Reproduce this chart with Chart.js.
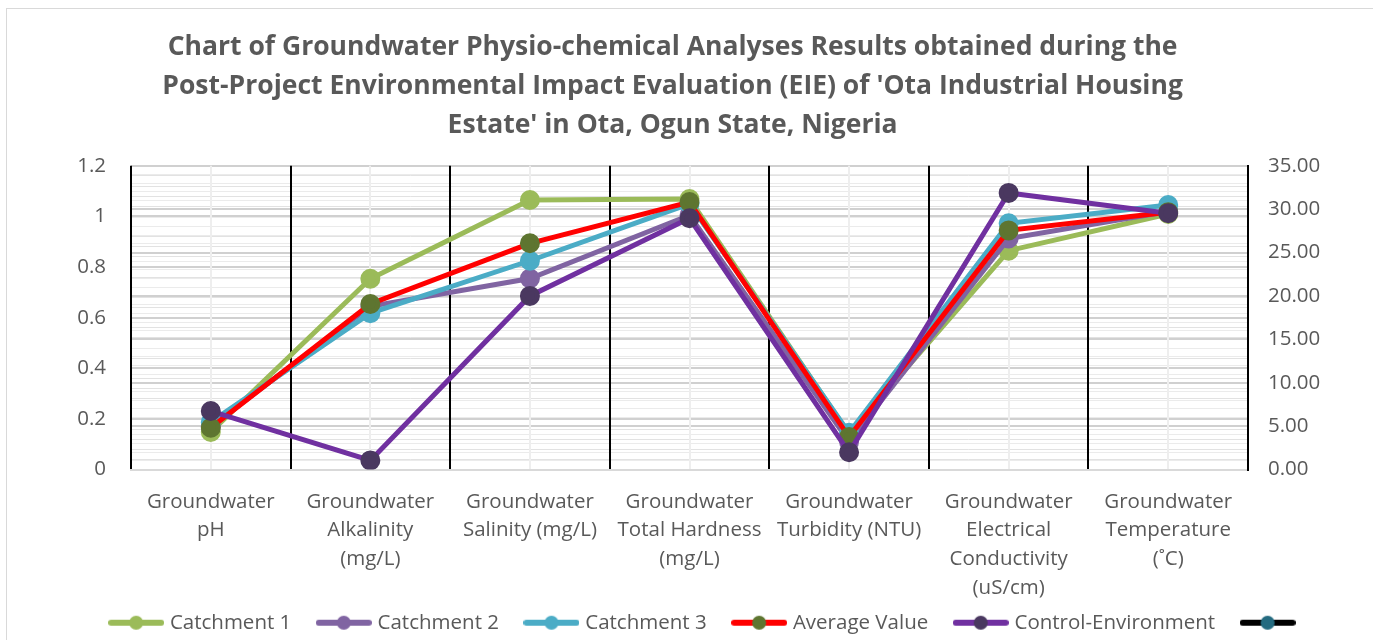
<!DOCTYPE html>
<html>
<head>
<meta charset="utf-8">
<script src="https://cdn.jsdelivr.net/npm/chart.js@4"></script>
<style>
  html, body { margin: 0; padding: 0; background: #fff; }
  #wrap { position: absolute; left: 6px; top: 8px; width: 1367px; height: 632px;
          border-left: 1px solid #d9d9d9; border-top: 1px solid #d9d9d9; box-sizing: border-box; }
</style>
</head>
<body>
<div id="wrap"><canvas id="myChart"></canvas></div>
<script>
const categories = [
  ["Groundwater", "pH"],
  ["Groundwater", "Alkalinity", "(mg/L)"],
  ["Groundwater", "Salinity (mg/L)"],
  ["Groundwater", "Total Hardness", "(mg/L)"],
  ["Groundwater", "Turbidity (NTU)"],
  ["Groundwater", "Electrical", "Conductivity", "(uS/cm)"],
  ["Groundwater", "Temperature", "(˚C)"],
];

const catchment1 = [0.148, 0.754, 1.065, 1.069, 0.140, 0.865, 1.010];
const catchment2 = [0.170, 0.645, 0.755, 1.005, 0.110, 0.913, 1.020];
const catchment3 = [0.187, 0.618, 0.825, 1.050, 0.145, 0.973, 1.045];
const averageValue = [0.165, 0.654, 0.894, 1.057, 0.128, 0.945, 1.017];
const controlEnv = [0.231, 0.036, 0.686, 0.993, 0.068, 1.093, 1.013];

const leftTicks = [0, 0.2, 0.4, 0.6, 0.8, 1, 1.2];
const rightTicks = [0, 5, 10, 15, 20, 25, 30, 35];

const titleLines = [
  "Chart of Groundwater Physio-chemical Analyses Results obtained during the",
  "Post-Project Environmental Impact Evaluation (EIE) of 'Ota Industrial Housing",
  "Estate' in Ota, Ogun State, Nigeria",
];

const textColor = "#595959";
const fontFamily = "'Open Sans'";

// minor gridline positions (labels only on the major ones above)
const leftGrid = [];
for (let i = 0; i <= 30; i++) leftGrid.push(Math.round(i * 4) / 100);
const rightGrid = [];
for (let i = 0; i <= 35; i++) rightGrid.push(i);

// little line + dot pictures for the legend
function legendIcon(lineColor, dotColor) {
  const c = document.createElement("canvas");
  c.width = 56;
  c.height = 16;
  const g = c.getContext("2d");
  g.strokeStyle = lineColor;
  g.lineWidth = 6;
  g.lineCap = "round";
  g.beginPath();
  g.moveTo(3, 8);
  g.lineTo(53, 8);
  g.stroke();
  g.fillStyle = dotColor;
  g.beginPath();
  g.arc(28, 8, 7, 0, Math.PI * 2);
  g.fill();
  return c;
}

function series(label, data, line, dot) {
  return {
    label: label,
    data: data,
    borderColor: line,
    backgroundColor: dot,
    pointBackgroundColor: dot,
    pointBorderColor: dot,
    pointRadius: 7.5,
    pointHoverRadius: 7.5,
    borderWidth: 5,
    tension: 0,
    yAxisID: "y",
    xAxisID: "x",
    icon: legendIcon(line, dot),
  };
}

const datasets = [
  series("Catchment 1", catchment1, "#9BBB59", "#9BBB59"),
  series("Catchment 2", catchment2, "#8064A2", "#8064A2"),
  series("Catchment 3", catchment3, "#4BACC6", "#4BACC6"),
  series("Average Value", averageValue, "#FF0000", "#5E7530"),
  series("Control-Environment", controlEnv, "#7030A0", "#4A3860"),
  series("", categories.map(() => null), "#000000", "#246B80"),
];
// draw order: control on top, then average
datasets[4].order = 0;
datasets[3].order = 1;
datasets[2].order = 2;
datasets[1].order = 3;
datasets[0].order = 4;

// let the category labels run below the axis box so the 4-line label is not cut
const labelRoom = {
  id: "labelRoom",
  afterLayout(chart) {
    chart.scales.x.bottom += 40;
  },
};

const ctx = document.getElementById("myChart");

new Chart(ctx, {
  type: "line",
  data: { labels: categories, datasets: datasets },
  plugins: [labelRoom],
  options: {
    responsive: true,
    maintainAspectRatio: false,
    animation: false,
    layout: { padding: { left: 34, right: 0, top: 6, bottom: -3 } },
    plugins: {
      tooltip: { enabled: false },
      title: {
        display: true,
        // trailing spaces nudge the centred title to the left, like the original
        text: titleLines.map((t) => t + "          "),
        color: textColor,
        font: { family: fontFamily, size: 26.5, weight: "bold", lineHeight: 1.47 },
        padding: { top: 13, bottom: 21 },
      },
      legend: {
        position: "bottom",
        labels: {
          color: textColor,
          font: { family: fontFamily, size: 20.5 },
          usePointStyle: true,
          pointStyleWidth: 47,
          boxHeight: 16,
          padding: 29,
          generateLabels: (chart) =>
            chart.data.datasets.map((ds, i) => ({
              text: ds.label,
              pointStyle: ds.icon,
              fillStyle: ds.borderColor,
              strokeStyle: ds.borderColor,
              lineWidth: 0,
              hidden: false,
              datasetIndex: i,
              fontColor: textColor,
            })),
        },
      },
    },
    scales: {
      x: {
        type: "category",
        offset: true,
        grid: { offset: true, color: "#000000", lineWidth: 2, drawTicks: false, z: -1 },
        border: { display: true, color: "#d9d9d9", width: 2 },
        ticks: {
          color: textColor,
          font: { family: fontFamily, size: 20.5, lineHeight: 1.4 },
          maxRotation: 0,
          autoSkip: false,
          padding: 18,
        },
        afterFit: (s) => { s.height = 114; },
      },
      x2: {
        type: "category",
        position: "bottom",
        offset: true,
        grid: { offset: false, color: "#eeeeee", lineWidth: 2, drawTicks: false, z: -2 },
        border: { display: false },
        ticks: { display: false },
        afterFit: (s) => { s.height = 0; },
      },
      y: {
        position: "left",
        min: 0,
        max: 1.2,
        afterBuildTicks: (s) => { s.ticks = leftGrid.map((v) => ({ value: v })); },
        ticks: {
          autoSkip: false,
          color: textColor,
          font: { family: fontFamily, size: 20.5 },
          padding: 25,
          callback: (v) => {
            const r = Math.round(v * 100) / 100;
            return leftTicks.some((t) => Math.abs(t - r) < 1e-6) ? String(r) : "";
          },
        },
        grid: {
          drawTicks: false,
          z: -3,
          color: (c) => {
            const r = Math.round(c.tick.value * 100);
            return r % 20 === 0 ? "#d0d0d0" : "#e2e2e2";
          },
          lineWidth: (c) => (Math.round(c.tick.value * 100) % 20 === 0 ? 2 : 1),
        },
        border: { display: false },
        afterFit: (s) => { s.width = 90; },
      },
      y1: {
        position: "right",
        min: 0,
        max: 35,
        afterBuildTicks: (s) => { s.ticks = rightGrid.map((v) => ({ value: v })); },
        ticks: {
          autoSkip: false,
          color: textColor,
          font: { family: fontFamily, size: 20.5 },
          padding: 20,
          callback: (v) => (rightTicks.includes(v) ? v.toFixed(2) : ""),
        },
        grid: {
          drawTicks: false,
          z: -3,
          color: (c) => (c.tick.value % 5 === 0 ? "#d0d0d0" : "#ebebeb"),
          lineWidth: (c) => (c.tick.value % 5 === 0 ? 2 : 1),
        },
        border: { display: true, color: "#000000", width: 2 },
        afterFit: (s) => { s.width = 125; },
      },
    },
  },
});
</script>
</body>
</html>
